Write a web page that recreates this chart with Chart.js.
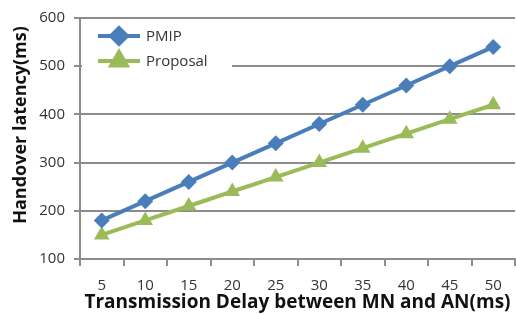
<!DOCTYPE html>
<html>
<head>
<meta charset="utf-8">
<script src="https://cdn.jsdelivr.net/npm/chart.js@4"></script>
<style>
  html, body { margin: 0; padding: 0; background: #fff; }
  #wrap { width: 516px; height: 314px; }
</style>
</head>
<body>
<div id="wrap"><canvas id="latency-chart" width="516" height="314"></canvas></div>
<script>
const delays = ['5', '10', '15', '20', '25', '30', '35', '40', '45', '50'];
const pmipLatency = [180, 220, 260, 300, 340, 380, 420, 460, 500, 540];
const proposalLatency = [150, 180, 210, 240, 270, 300, 330, 360, 390, 420];
const yTicks = [100, 200, 300, 400, 500, 600];

const FONT = 'Open Sans';
const BLUE = '#4a7ebb';
const GREEN = '#9bbb59';
const GRID = '#8c8c8c';

// excel-style legend box inside the plot area + the rotated y title
const insideLegend = {
  id: 'insideLegend',
  afterDatasetsDraw(chart) {
    const { ctx, chartArea } = chart;
    const x0 = chartArea.left + 2;
    const y0 = chartArea.top + 6;
    ctx.save();
    ctx.fillStyle = '#fff';
    ctx.fillRect(x0, y0, 150, 52);
    chart.data.datasets.forEach((ds, i) => {
      const cy = y0 + 12 + i * 25;
      ctx.strokeStyle = ds.borderColor;
      ctx.lineWidth = 4;
      ctx.beginPath();
      ctx.moveTo(x0 + 16, cy);
      ctx.lineTo(x0 + 58, cy);
      ctx.stroke();
      Chart.helpers.drawPoint(ctx, {
        pointStyle: ds.pointStyle,
        radius: ds.pointRadius,
        borderWidth: 1,
      }, x0 + 37, cy);
      ctx.fillStyle = ds.borderColor;
      ctx.fill();
      ctx.fillStyle = '#333';
      ctx.font = `15px "${FONT}"`;
      ctx.textBaseline = 'middle';
      ctx.fillText(ds.label, x0 + 64, cy + 1);
    });

    // y axis title, sits a bit above the plot centre like in excel
    ctx.translate(21, 125);
    ctx.rotate(-Math.PI / 2);
    ctx.fillStyle = '#111';
    ctx.font = `bold 18px "${FONT}"`;
    ctx.textAlign = 'center';
    ctx.textBaseline = 'middle';
    ctx.fillText('Handover latency(ms)', 0, 0);
    ctx.restore();
  },
};

new Chart(document.getElementById('latency-chart'), {
  type: 'line',
  data: {
    labels: delays,
    datasets: [
      {
        label: 'PMIP',
        data: pmipLatency,
        borderColor: BLUE,
        backgroundColor: BLUE,
        borderWidth: 4,
        pointStyle: 'rectRot',
        pointRadius: 8,
        pointBorderWidth: 0,
      },
      {
        label: 'Proposal',
        data: proposalLatency,
        borderColor: GREEN,
        backgroundColor: GREEN,
        borderWidth: 4,
        pointStyle: 'triangle',
        pointRadius: 9,
        pointBorderWidth: 0,
      },
    ],
  },
  options: {
    responsive: false,
    animation: false,
    layout: { autoPadding: false, padding: { top: 15, right: 1, left: 0, bottom: 0 } },
    plugins: {
      legend: { display: false },
      tooltip: { enabled: false },
    },
    scales: {
      x: {
        offset: true,
        afterFit(scale) { scale.height = 55; },
        grid: {
          display: true,
          offset: true,
          drawOnChartArea: false,
          color: GRID,
          lineWidth: 2,
          tickLength: 7,
        },
        border: { color: GRID, width: 2 },
        ticks: { color: '#333', font: { family: FONT, size: 15 }, padding: 11 },
        title: {
          display: true,
          text: 'Transmission Delay between MN and AN(ms)',
          color: '#111',
          font: { family: FONT, size: 19, weight: 'bold' },
          padding: { top: 0, bottom: 0 },
        },
      },
      y: {
        min: 100,
        max: 600,
        afterFit(scale) { scale.width = 80; },
        afterBuildTicks(scale) { scale.ticks = yTicks.map((v) => ({ value: v })); },
        grid: { color: GRID, lineWidth: 2, tickLength: 6 },
        border: { color: GRID, width: 2 },
        ticks: { color: '#333', font: { family: FONT, size: 15 }, padding: 9 },
      },
    },
  },
  plugins: [insideLegend],
});
</script>
</body>
</html>
